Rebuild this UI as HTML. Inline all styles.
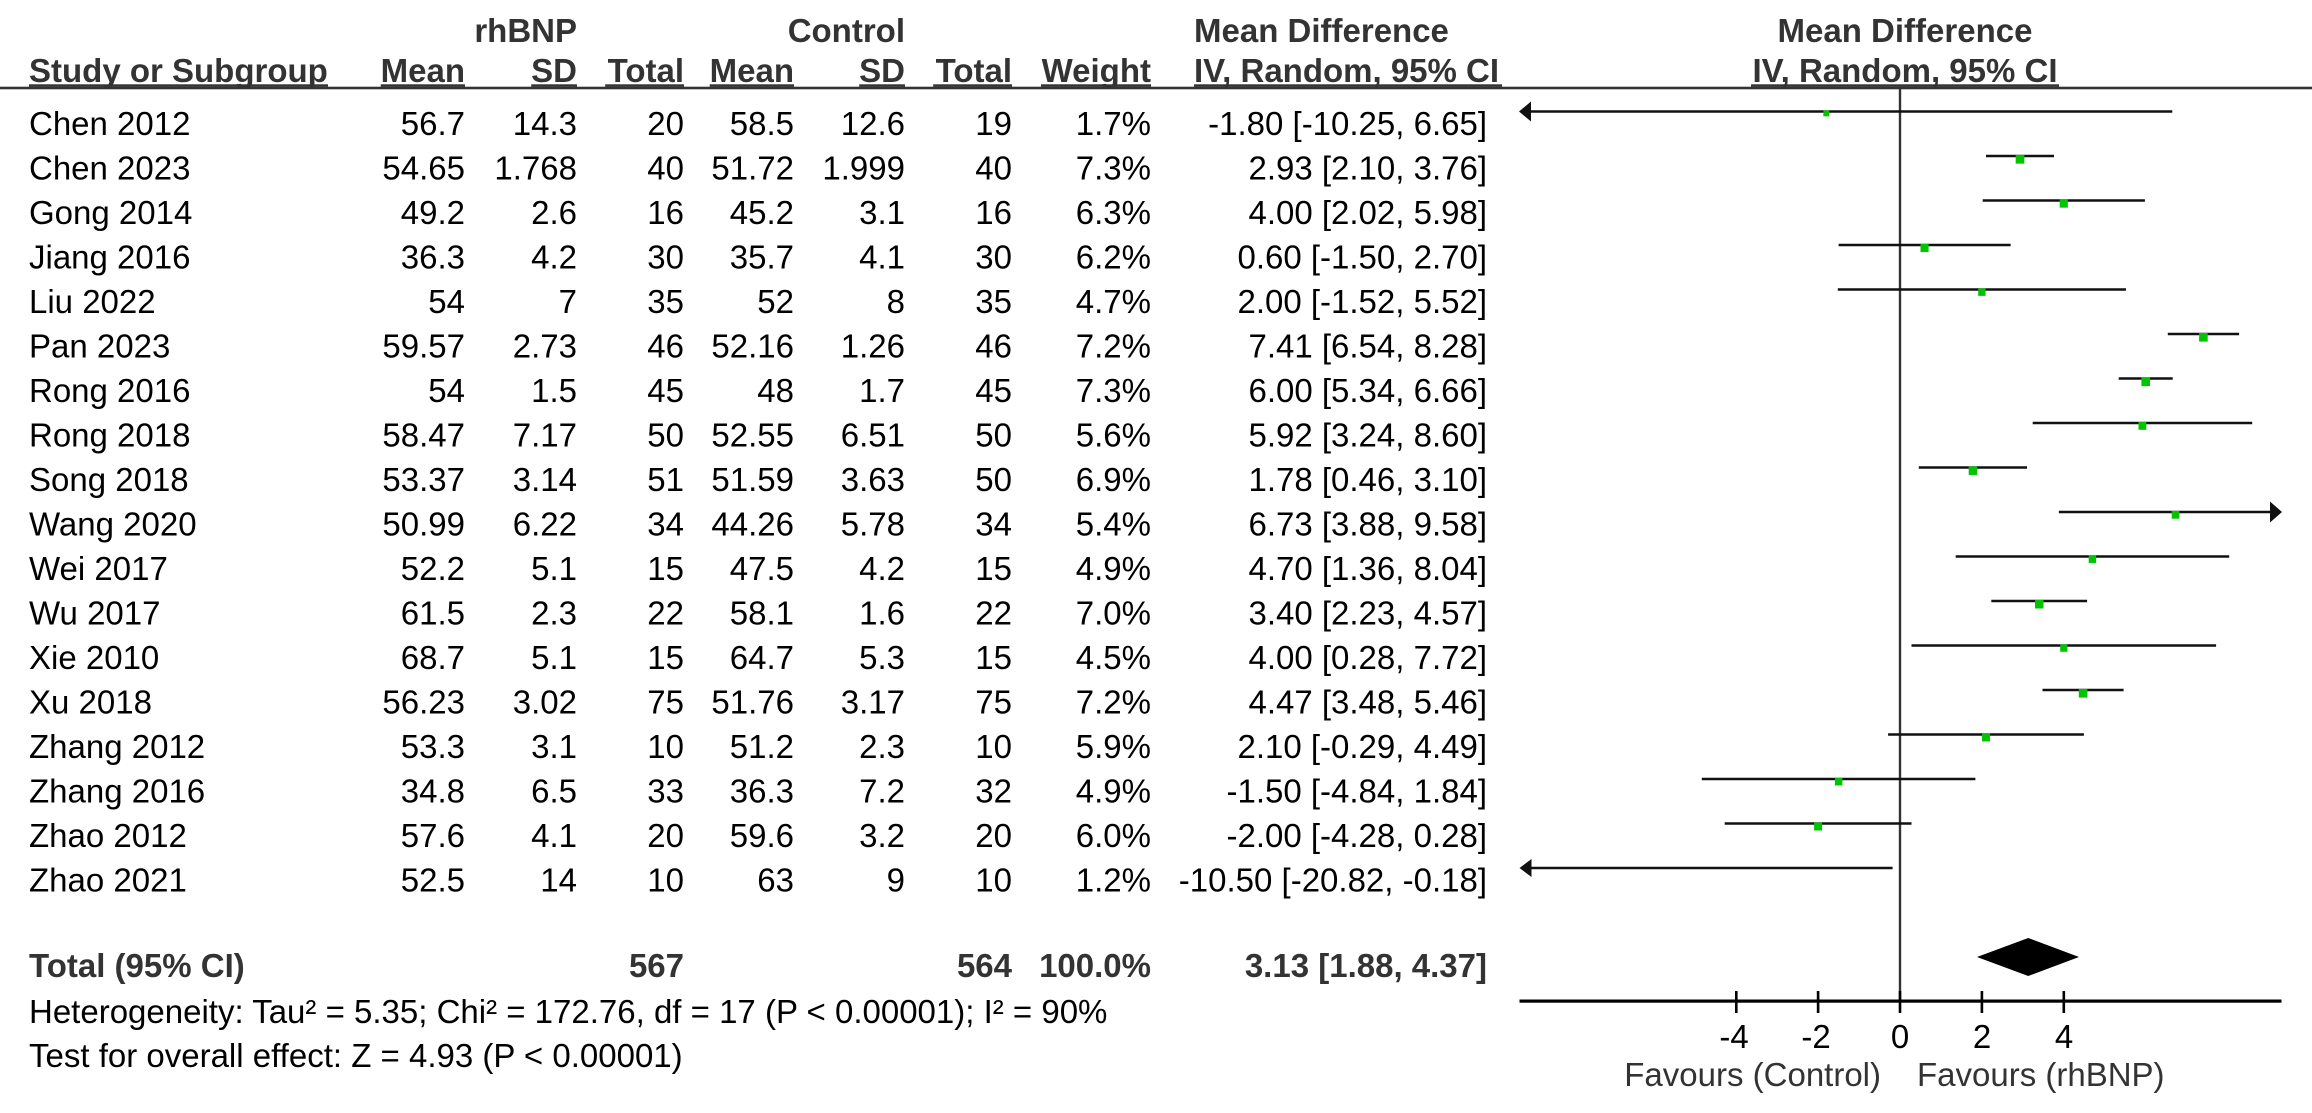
<!DOCTYPE html>
<html><head><meta charset="utf-8"><style>
html,body{margin:0;padding:0;background:#fff;}
svg{display:block;}
text{font-family:"Liberation Sans",Arial,sans-serif;font-size:33px;fill:#000;}
.b{font-weight:bold;fill:#333;}
.r{text-anchor:end;}
.m{text-anchor:middle;}
</style></head><body>
<svg width="2312" height="1113" viewBox="0 0 2312 1113" xmlns="http://www.w3.org/2000/svg">
<rect width="2312" height="1113" fill="#fff"/>
<!-- headers -->
<text class="b r" x="577" y="42">rhBNP</text>
<text class="b r" x="905" y="42">Control</text>
<text class="b" x="1194" y="42">Mean Difference</text>
<text class="b m" x="1905" y="42">Mean Difference</text>
<text class="b" x="29" y="82">Study or Subgroup</text>
<text class="b r" x="465" y="82">Mean</text>
<text class="b r" x="577" y="82">SD</text>
<text class="b r" x="684" y="82">Total</text>
<text class="b r" x="794" y="82">Mean</text>
<text class="b r" x="905" y="82">SD</text>
<text class="b r" x="1012" y="82">Total</text>
<text class="b r" x="1151" y="82">Weight</text>
<text class="b" x="1194" y="82">IV, Random, 95% CI</text>
<text class="b m" x="1905" y="82">IV, Random, 95% CI</text>
<!-- header underlines -->
<g fill="#333">
<rect x="29" y="84.3" width="299" height="2.5"/>
<rect x="380.7" y="84.3" width="84.3" height="2.5"/>
<rect x="531.2" y="84.3" width="45.8" height="2.5"/>
<rect x="605.2" y="84.3" width="78.8" height="2.5"/>
<rect x="709.7" y="84.3" width="84.3" height="2.5"/>
<rect x="859.2" y="84.3" width="45.8" height="2.5"/>
<rect x="933.2" y="84.3" width="78.8" height="2.5"/>
<rect x="1041" y="84.3" width="110" height="2.5"/>
<rect x="1194" y="84.3" width="308" height="2.5"/>
<rect x="1751" y="84.3" width="308" height="2.5"/>
</g>
<rect x="0" y="86.7" width="2312" height="2.6" fill="#333"/>
<!-- zero line -->
<rect x="1898.8" y="88" width="2.4" height="913" fill="#333"/>

<!-- rows -->
<g>
<text x="29" y="135">Chen 2012</text><text class="r" x="465" y="135">56.7</text><text class="r" x="577" y="135">14.3</text><text class="r" x="684" y="135">20</text><text class="r" x="794" y="135">58.5</text><text class="r" x="905" y="135">12.6</text><text class="r" x="1012" y="135">19</text><text class="r" x="1151" y="135">1.7%</text><text class="r" x="1487" y="135">-1.80 [-10.25, 6.65]</text>
<text x="29" y="179.5">Chen 2023</text><text class="r" x="465" y="179.5">54.65</text><text class="r" x="577" y="179.5">1.768</text><text class="r" x="684" y="179.5">40</text><text class="r" x="794" y="179.5">51.72</text><text class="r" x="905" y="179.5">1.999</text><text class="r" x="1012" y="179.5">40</text><text class="r" x="1151" y="179.5">7.3%</text><text class="r" x="1487" y="179.5">2.93 [2.10, 3.76]</text>
<text x="29" y="224">Gong 2014</text><text class="r" x="465" y="224">49.2</text><text class="r" x="577" y="224">2.6</text><text class="r" x="684" y="224">16</text><text class="r" x="794" y="224">45.2</text><text class="r" x="905" y="224">3.1</text><text class="r" x="1012" y="224">16</text><text class="r" x="1151" y="224">6.3%</text><text class="r" x="1487" y="224">4.00 [2.02, 5.98]</text>
<text x="29" y="268.5">Jiang 2016</text><text class="r" x="465" y="268.5">36.3</text><text class="r" x="577" y="268.5">4.2</text><text class="r" x="684" y="268.5">30</text><text class="r" x="794" y="268.5">35.7</text><text class="r" x="905" y="268.5">4.1</text><text class="r" x="1012" y="268.5">30</text><text class="r" x="1151" y="268.5">6.2%</text><text class="r" x="1487" y="268.5">0.60 [-1.50, 2.70]</text>
<text x="29" y="313">Liu 2022</text><text class="r" x="465" y="313">54</text><text class="r" x="577" y="313">7</text><text class="r" x="684" y="313">35</text><text class="r" x="794" y="313">52</text><text class="r" x="905" y="313">8</text><text class="r" x="1012" y="313">35</text><text class="r" x="1151" y="313">4.7%</text><text class="r" x="1487" y="313">2.00 [-1.52, 5.52]</text>
<text x="29" y="357.5">Pan 2023</text><text class="r" x="465" y="357.5">59.57</text><text class="r" x="577" y="357.5">2.73</text><text class="r" x="684" y="357.5">46</text><text class="r" x="794" y="357.5">52.16</text><text class="r" x="905" y="357.5">1.26</text><text class="r" x="1012" y="357.5">46</text><text class="r" x="1151" y="357.5">7.2%</text><text class="r" x="1487" y="357.5">7.41 [6.54, 8.28]</text>
<text x="29" y="402">Rong 2016</text><text class="r" x="465" y="402">54</text><text class="r" x="577" y="402">1.5</text><text class="r" x="684" y="402">45</text><text class="r" x="794" y="402">48</text><text class="r" x="905" y="402">1.7</text><text class="r" x="1012" y="402">45</text><text class="r" x="1151" y="402">7.3%</text><text class="r" x="1487" y="402">6.00 [5.34, 6.66]</text>
<text x="29" y="446.5">Rong 2018</text><text class="r" x="465" y="446.5">58.47</text><text class="r" x="577" y="446.5">7.17</text><text class="r" x="684" y="446.5">50</text><text class="r" x="794" y="446.5">52.55</text><text class="r" x="905" y="446.5">6.51</text><text class="r" x="1012" y="446.5">50</text><text class="r" x="1151" y="446.5">5.6%</text><text class="r" x="1487" y="446.5">5.92 [3.24, 8.60]</text>
<text x="29" y="491">Song 2018</text><text class="r" x="465" y="491">53.37</text><text class="r" x="577" y="491">3.14</text><text class="r" x="684" y="491">51</text><text class="r" x="794" y="491">51.59</text><text class="r" x="905" y="491">3.63</text><text class="r" x="1012" y="491">50</text><text class="r" x="1151" y="491">6.9%</text><text class="r" x="1487" y="491">1.78 [0.46, 3.10]</text>
<text x="29" y="535.5">Wang 2020</text><text class="r" x="465" y="535.5">50.99</text><text class="r" x="577" y="535.5">6.22</text><text class="r" x="684" y="535.5">34</text><text class="r" x="794" y="535.5">44.26</text><text class="r" x="905" y="535.5">5.78</text><text class="r" x="1012" y="535.5">34</text><text class="r" x="1151" y="535.5">5.4%</text><text class="r" x="1487" y="535.5">6.73 [3.88, 9.58]</text>
<text x="29" y="580">Wei 2017</text><text class="r" x="465" y="580">52.2</text><text class="r" x="577" y="580">5.1</text><text class="r" x="684" y="580">15</text><text class="r" x="794" y="580">47.5</text><text class="r" x="905" y="580">4.2</text><text class="r" x="1012" y="580">15</text><text class="r" x="1151" y="580">4.9%</text><text class="r" x="1487" y="580">4.70 [1.36, 8.04]</text>
<text x="29" y="624.5">Wu 2017</text><text class="r" x="465" y="624.5">61.5</text><text class="r" x="577" y="624.5">2.3</text><text class="r" x="684" y="624.5">22</text><text class="r" x="794" y="624.5">58.1</text><text class="r" x="905" y="624.5">1.6</text><text class="r" x="1012" y="624.5">22</text><text class="r" x="1151" y="624.5">7.0%</text><text class="r" x="1487" y="624.5">3.40 [2.23, 4.57]</text>
<text x="29" y="669">Xie 2010</text><text class="r" x="465" y="669">68.7</text><text class="r" x="577" y="669">5.1</text><text class="r" x="684" y="669">15</text><text class="r" x="794" y="669">64.7</text><text class="r" x="905" y="669">5.3</text><text class="r" x="1012" y="669">15</text><text class="r" x="1151" y="669">4.5%</text><text class="r" x="1487" y="669">4.00 [0.28, 7.72]</text>
<text x="29" y="713.5">Xu 2018</text><text class="r" x="465" y="713.5">56.23</text><text class="r" x="577" y="713.5">3.02</text><text class="r" x="684" y="713.5">75</text><text class="r" x="794" y="713.5">51.76</text><text class="r" x="905" y="713.5">3.17</text><text class="r" x="1012" y="713.5">75</text><text class="r" x="1151" y="713.5">7.2%</text><text class="r" x="1487" y="713.5">4.47 [3.48, 5.46]</text>
<text x="29" y="758">Zhang 2012</text><text class="r" x="465" y="758">53.3</text><text class="r" x="577" y="758">3.1</text><text class="r" x="684" y="758">10</text><text class="r" x="794" y="758">51.2</text><text class="r" x="905" y="758">2.3</text><text class="r" x="1012" y="758">10</text><text class="r" x="1151" y="758">5.9%</text><text class="r" x="1487" y="758">2.10 [-0.29, 4.49]</text>
<text x="29" y="802.5">Zhang 2016</text><text class="r" x="465" y="802.5">34.8</text><text class="r" x="577" y="802.5">6.5</text><text class="r" x="684" y="802.5">33</text><text class="r" x="794" y="802.5">36.3</text><text class="r" x="905" y="802.5">7.2</text><text class="r" x="1012" y="802.5">32</text><text class="r" x="1151" y="802.5">4.9%</text><text class="r" x="1487" y="802.5">-1.50 [-4.84, 1.84]</text>
<text x="29" y="847">Zhao 2012</text><text class="r" x="465" y="847">57.6</text><text class="r" x="577" y="847">4.1</text><text class="r" x="684" y="847">20</text><text class="r" x="794" y="847">59.6</text><text class="r" x="905" y="847">3.2</text><text class="r" x="1012" y="847">20</text><text class="r" x="1151" y="847">6.0%</text><text class="r" x="1487" y="847">-2.00 [-4.28, 0.28]</text>
<text x="29" y="891.5">Zhao 2021</text><text class="r" x="465" y="891.5">52.5</text><text class="r" x="577" y="891.5">14</text><text class="r" x="684" y="891.5">10</text><text class="r" x="794" y="891.5">63</text><text class="r" x="905" y="891.5">9</text><text class="r" x="1012" y="891.5">10</text><text class="r" x="1151" y="891.5">1.2%</text><text class="r" x="1487" y="891.5">-10.50 [-20.82, -0.18]</text>
</g>

<!-- total -->
<text class="b" x="29" y="977">Total (95% CI)</text>
<text class="b r" x="684" y="977">567</text>
<text class="b r" x="1012" y="977">564</text>
<text class="b r" x="1151" y="977">100.0%</text>
<text class="b r" x="1487" y="977">3.13 [1.88, 4.37]</text>
<text x="29" y="1023">Heterogeneity: Tau² = 5.35; Chi² = 172.76, df = 17 (P &lt; 0.00001); I² = 90%</text>
<text x="29" y="1067">Test for overall effect: Z = 4.93 (P &lt; 0.00001)</text>

<!-- CI lines -->
<g stroke="#111" stroke-width="2.6" fill="none">
<line x1="1528" y1="111.5" x2="2172.3" y2="111.5"/>
<line x1="1986.0" y1="156" x2="2054.0" y2="156"/>
<line x1="1982.7" y1="200.5" x2="2144.9" y2="200.5"/>
<line x1="1838.6" y1="245" x2="2010.6" y2="245"/>
<line x1="1837.8" y1="289.5" x2="2126.0" y2="289.5"/>
<line x1="2167.8" y1="334" x2="2239.1" y2="334"/>
<line x1="2118.7" y1="378.5" x2="2172.7" y2="378.5"/>
<line x1="2032.7" y1="423" x2="2252.2" y2="423"/>
<line x1="1918.8" y1="467.5" x2="2027.0" y2="467.5"/>
<line x1="2058.9" y1="512" x2="2272" y2="512"/>
<line x1="1955.7" y1="556.5" x2="2229.2" y2="556.5"/>
<line x1="1991.3" y1="601" x2="2087.1" y2="601"/>
<line x1="1911.5" y1="645.5" x2="2216.1" y2="645.5"/>
<line x1="2042.5" y1="690" x2="2123.6" y2="690"/>
<line x1="1888.1" y1="734.5" x2="2083.9" y2="734.5"/>
<line x1="1701.8" y1="779" x2="1975.4" y2="779"/>
<line x1="1724.7" y1="823.5" x2="1911.5" y2="823.5"/>
<line x1="1528" y1="868" x2="1892.6" y2="868"/>
</g>
<!-- arrowheads -->
<g fill="#111">
<polygon points="1519,111.5 1531,101.5 1531,121.5"/>
<polygon points="1519.5,868 1531.5,859 1531.5,877"/>
<polygon points="2282,512 2270,501.5 2270,522.5"/>
</g>
<!-- squares -->
<g fill="#00c400">
<rect x="1823.4" y="110.5" width="5.85" height="5.85"/>
<rect x="2015.7" y="155" width="8.65" height="8.65"/>
<rect x="2059.7" y="199.5" width="8.15" height="8.15"/>
<rect x="1920.5" y="244" width="8.1" height="8.1"/>
<rect x="1978.2" y="288.5" width="7.35" height="7.35"/>
<rect x="2199.1" y="333" width="8.6" height="8.6"/>
<rect x="2141.4" y="377.5" width="8.65" height="8.65"/>
<rect x="2138.5" y="422" width="7.8" height="7.8"/>
<rect x="1968.7" y="466.5" width="8.45" height="8.45"/>
<rect x="2171.7" y="511" width="7.7" height="7.7"/>
<rect x="2088.7" y="555.5" width="7.45" height="7.45"/>
<rect x="2035.0" y="600" width="8.5" height="8.5"/>
<rect x="2060.2" y="644.5" width="7.25" height="7.25"/>
<rect x="2078.8" y="689" width="8.6" height="8.6"/>
<rect x="1982.0" y="733.5" width="7.95" height="7.95"/>
<rect x="1834.9" y="778" width="7.45" height="7.45"/>
<rect x="1814.1" y="822.5" width="8.0" height="8.0"/>
</g>
<!-- diamond -->
<polygon points="1977,957 2028.2,938 2079,957 2028.2,976" fill="#000"/>

<!-- axis -->
<rect x="1519.5" y="999.5" width="762" height="3.2" fill="#000"/>
<g fill="#000">
<rect x="1735" y="991" width="2.6" height="22"/>
<rect x="1816.8" y="991" width="2.6" height="22"/>
<rect x="1898.7" y="991" width="2.6" height="22"/>
<rect x="1980.6" y="991" width="2.6" height="22"/>
<rect x="2062.5" y="991" width="2.6" height="22"/>
</g>
<g style="font-size:31px">
<text class="m" x="1734" y="1048">-4</text>
<text class="m" x="1816" y="1048">-2</text>
<text class="m" x="1900" y="1048">0</text>
<text class="m" x="1982" y="1048">2</text>
<text class="m" x="2064" y="1048">4</text>
</g>
<text class="r" x="1881" y="1086" style="fill:#333">Favours (Control)</text>
<text x="1917" y="1086" style="fill:#333">Favours (rhBNP)</text>
</svg>
</body></html>
